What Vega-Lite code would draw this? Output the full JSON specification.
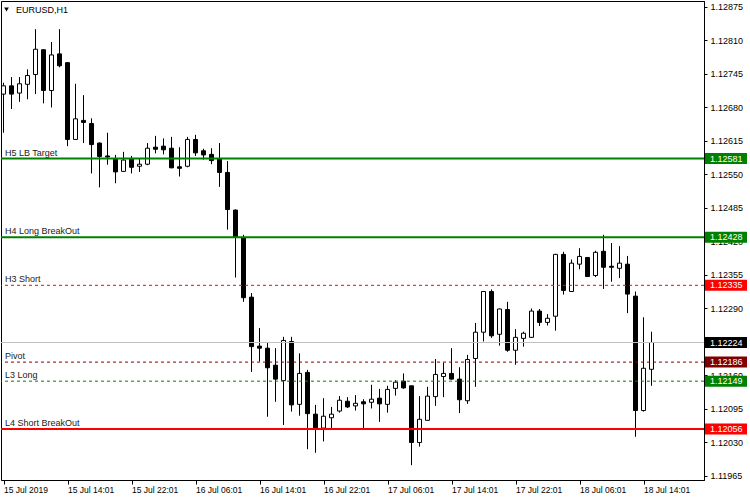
{
  "$schema": "https://vega.github.io/schema/vega-lite/v6.json",
  "autosize": "none",
  "width": 703,
  "height": 479,
  "padding": {"left": 1, "top": 1, "right": 46, "bottom": 20},
  "background": "white",
  "config": {
    "view": {"stroke": "#000000", "strokeWidth": 1},
    "font": "Liberation Sans",
    "scale": {"continuousPadding": 0},
    "axis": {"labelFont": "Liberation Sans", "grid": false, "title": null, "domainColor": "#000000", "tickColor": "#000000", "labelColor": "#000000", "labelOverlap": false}
  },
  "datasets": {
    "candles": [
      {"k":0,"o":1.12706,"h":1.12728,"l":1.12631,"c":1.12722},
      {"k":1,"o":1.12722,"h":1.12739,"l":1.12677,"c":1.12706},
      {"k":2,"o":1.12708,"h":1.12739,"l":1.12691,"c":1.12726},
      {"k":3,"o":1.12725,"h":1.12754,"l":1.12696,"c":1.12742},
      {"k":4,"o":1.12744,"h":1.12832,"l":1.12706,"c":1.12793},
      {"k":5,"o":1.12792,"h":1.12793,"l":1.12688,"c":1.12713},
      {"k":6,"o":1.12713,"h":1.12807,"l":1.12680,"c":1.12782},
      {"k":7,"o":1.12784,"h":1.12832,"l":1.12758,"c":1.12761},
      {"k":8,"o":1.12767,"h":1.12768,"l":1.12605,"c":1.12618},
      {"k":9,"o":1.12618,"h":1.12726,"l":1.12617,"c":1.12658},
      {"k":10,"o":1.12655,"h":1.12704,"l":1.12611,"c":1.12651},
      {"k":11,"o":1.12649,"h":1.12659,"l":1.12552,"c":1.12608},
      {"k":12,"o":1.12611,"h":1.12612,"l":1.12525,"c":1.12585},
      {"k":13,"o":1.12586,"h":1.12631,"l":1.12569,"c":1.12584},
      {"k":14,"o":1.12580,"h":1.12588,"l":1.12533,"c":1.12555},
      {"k":15,"o":1.12556,"h":1.12594,"l":1.12555,"c":1.12578},
      {"k":16,"o":1.12580,"h":1.12586,"l":1.12552,"c":1.12564},
      {"k":17,"o":1.12566,"h":1.12580,"l":1.12555,"c":1.12570},
      {"k":18,"o":1.12570,"h":1.12611,"l":1.12568,"c":1.12601},
      {"k":19,"o":1.12603,"h":1.12625,"l":1.12591,"c":1.12599},
      {"k":20,"o":1.12605,"h":1.12620,"l":1.12589,"c":1.12598},
      {"k":21,"o":1.12601,"h":1.12623,"l":1.12562,"c":1.12563},
      {"k":22,"o":1.12565,"h":1.12603,"l":1.12546,"c":1.12562},
      {"k":23,"o":1.12566,"h":1.12623,"l":1.12564,"c":1.12618},
      {"k":24,"o":1.12618,"h":1.12627,"l":1.12586,"c":1.12592},
      {"k":25,"o":1.12596,"h":1.12600,"l":1.12579,"c":1.12588},
      {"k":26,"o":1.12589,"h":1.12601,"l":1.12570,"c":1.12577},
      {"k":27,"o":1.12581,"h":1.12611,"l":1.12526,"c":1.12554},
      {"k":28,"o":1.12554,"h":1.12576,"l":1.12443,"c":1.12482},
      {"k":29,"o":1.12481,"h":1.12482,"l":1.12350,"c":1.12429},
      {"k":30,"o":1.12427,"h":1.12433,"l":1.12303,"c":1.12311},
      {"k":31,"o":1.12312,"h":1.12320,"l":1.12167,"c":1.12216},
      {"k":32,"o":1.12217,"h":1.12252,"l":1.12187,"c":1.12213},
      {"k":33,"o":1.12213,"h":1.12224,"l":1.12080,"c":1.12175},
      {"k":34,"o":1.12180,"h":1.12213,"l":1.12109,"c":1.12153},
      {"k":35,"o":1.12150,"h":1.12235,"l":1.12064,"c":1.12228},
      {"k":36,"o":1.12226,"h":1.12235,"l":1.12090,"c":1.12103},
      {"k":37,"o":1.12104,"h":1.12203,"l":1.12082,"c":1.12164},
      {"k":38,"o":1.12166,"h":1.12171,"l":1.12017,"c":1.12086},
      {"k":39,"o":1.12085,"h":1.12103,"l":1.12010,"c":1.12058},
      {"k":40,"o":1.12058,"h":1.12116,"l":1.12032,"c":1.12081},
      {"k":41,"o":1.12078,"h":1.12099,"l":1.12058,"c":1.12085},
      {"k":42,"o":1.12091,"h":1.12120,"l":1.12088,"c":1.12112},
      {"k":43,"o":1.12110,"h":1.12118,"l":1.12097,"c":1.12099},
      {"k":44,"o":1.12101,"h":1.12122,"l":1.12092,"c":1.12106},
      {"k":45,"o":1.12109,"h":1.12114,"l":1.12058,"c":1.12105},
      {"k":46,"o":1.12108,"h":1.12142,"l":1.12096,"c":1.12114},
      {"k":47,"o":1.12116,"h":1.12134,"l":1.12070,"c":1.12105},
      {"k":48,"o":1.12104,"h":1.12140,"l":1.12088,"c":1.12133},
      {"k":49,"o":1.12135,"h":1.12151,"l":1.12121,"c":1.12147},
      {"k":50,"o":1.12149,"h":1.12164,"l":1.12134,"c":1.12136},
      {"k":51,"o":1.12140,"h":1.12140,"l":1.11986,"c":1.12030},
      {"k":52,"o":1.12030,"h":1.12120,"l":1.12022,"c":1.12075},
      {"k":53,"o":1.12073,"h":1.12138,"l":1.12073,"c":1.12120},
      {"k":54,"o":1.12119,"h":1.12192,"l":1.12101,"c":1.12162},
      {"k":55,"o":1.12158,"h":1.12185,"l":1.12118,"c":1.12164},
      {"k":56,"o":1.12164,"h":1.12213,"l":1.12152,"c":1.12153},
      {"k":57,"o":1.12153,"h":1.12176,"l":1.12087,"c":1.12113},
      {"k":58,"o":1.12111,"h":1.12200,"l":1.12105,"c":1.12191},
      {"k":59,"o":1.12193,"h":1.12262,"l":1.12138,"c":1.12244},
      {"k":60,"o":1.12244,"h":1.12324,"l":1.12226,"c":1.12323},
      {"k":61,"o":1.12323,"h":1.12327,"l":1.12233,"c":1.12237},
      {"k":62,"o":1.12240,"h":1.12290,"l":1.12218,"c":1.12289},
      {"k":63,"o":1.12288,"h":1.12303,"l":1.12206,"c":1.12209},
      {"k":64,"o":1.12209,"h":1.12250,"l":1.12181,"c":1.12234},
      {"k":65,"o":1.12232,"h":1.12245,"l":1.12216,"c":1.12242},
      {"k":66,"o":1.12234,"h":1.12290,"l":1.12233,"c":1.12285},
      {"k":67,"o":1.12285,"h":1.12289,"l":1.12256,"c":1.12263},
      {"k":68,"o":1.12263,"h":1.12279,"l":1.12257,"c":1.12271},
      {"k":69,"o":1.12275,"h":1.12396,"l":1.12247,"c":1.12395},
      {"k":70,"o":1.12395,"h":1.12400,"l":1.12317,"c":1.12325},
      {"k":71,"o":1.12323,"h":1.12385,"l":1.12322,"c":1.12378},
      {"k":72,"o":1.12376,"h":1.12407,"l":1.12366,"c":1.12391},
      {"k":73,"o":1.12389,"h":1.12390,"l":1.12351,"c":1.12352},
      {"k":74,"o":1.12354,"h":1.12402,"l":1.12351,"c":1.12399},
      {"k":75,"o":1.12401,"h":1.12433,"l":1.12328,"c":1.12370},
      {"k":76,"o":1.12372,"h":1.12417,"l":1.12342,"c":1.12370},
      {"k":77,"o":1.12368,"h":1.12411,"l":1.12349,"c":1.12378},
      {"k":78,"o":1.12376,"h":1.12392,"l":1.12281,"c":1.12318},
      {"k":79,"o":1.12314,"h":1.12323,"l":1.12041,"c":1.12092},
      {"k":80,"o":1.12092,"h":1.12273,"l":1.12090,"c":1.12174},
      {"k":81,"o":1.12172,"h":1.12245,"l":1.12140,"c":1.12224}
    ],
    "levels": [
      {"name":"H5 LB Target","price":1.12581},
      {"name":"H4 Long BreakOut","price":1.12428},
      {"name":"H3 Short","price":1.12335},
      {"name":"Bid","price":1.12224},
      {"name":"Pivot","price":1.12186},
      {"name":"L3 Long","price":1.12149},
      {"name":"L4 Short BreakOut","price":1.12056}
    ],
    "header": [{"title":"EURUSD,H1"}]
  },
  "layer": [
    {
      "data": {"name": "candles"},
      "mark": {"type": "rule", "color": "#000000", "strokeWidth": 1},
      "encoding": {
        "x": {"field": "k", "type": "quantitative",
          "scale": {"domain": [-0.3125, 87.5625], "nice": false, "zero": false, "padding": 0},
          "axis": {"orient": "bottom", "values": [0,8,16,24,32,40,48,56,64,72,80], "tickCount": 20,
            "labelExpr": "['15 Jul 2019','15 Jul 14:01','15 Jul 22:01','16 Jul 06:01','16 Jul 14:01','16 Jul 22:01','17 Jul 06:01','17 Jul 14:01','17 Jul 22:01','18 Jul 06:01','18 Jul 14:01'][round(datum.value/8)]",
            "labelAlign": "left", "labelFontSize": 8.5, "tickSize": 4, "labelPadding": 1, "labelFlush": false, "labelOverlap": false, "labelBaseline": "top"}},
        "y": {"field": "l", "type": "quantitative",
          "scale": {"domain": [1.1195723, 1.1288664], "nice": false, "zero": false, "padding": 0},
          "axis": {"orient": "right", "values": [1.11965,1.1203,1.12095,1.1216,1.1229,1.12355,1.1242,1.12485,1.1255,1.12615,1.1268,1.12745,1.1281,1.12875],
            "tickCount": 30, "format": ".5f", "labelFontSize": 9, "tickSize": 3, "labelPadding": 3, "labelOverlap": false, "labelFlush": false}},
        "y2": {"field": "h"}
      }
    },
    {
      "data": {"name": "candles"},
      "mark": {"type": "bar", "size": 4, "stroke": "#000000", "strokeWidth": 1},
      "encoding": {
        "x": {"field": "k", "type": "quantitative"},
        "y": {"field": "o", "type": "quantitative"},
        "y2": {"field": "c"},
        "fill": {"condition": {"test": "datum.c > datum.o", "value": "#ffffff"}, "value": "#000000"}
      }
    },
    {
      "data": {"name": "levels"},
      "transform": [{"filter": {"field": "name", "oneOf": ["H5 LB Target", "H4 Long BreakOut", "L4 Short BreakOut", "Bid"]}}],
      "mark": {"type": "rule"},
      "encoding": {
        "y": {"field": "price", "type": "quantitative"},
        "stroke": {"field": "name", "type": "nominal", "legend": null,
          "scale": {"domain": ["H5 LB Target","H4 Long BreakOut","H3 Short","Bid","Pivot","L3 Long","L4 Short BreakOut"],
                    "range": ["#008000","#008000","#ff0000","#c0c0c0","#800000","#008000","#ff0000"]}},
        "strokeWidth": {"condition": {"test": "datum.name === 'Bid'", "value": 1}, "value": 2}
      }
    },
    {
      "data": {"name": "levels"},
      "transform": [{"filter": {"field": "name", "oneOf": ["H3 Short", "Pivot", "L3 Long"]}}],
      "mark": {"type": "rule", "strokeDash": [3, 3], "strokeWidth": 1},
      "encoding": {
        "y": {"field": "price", "type": "quantitative"},
        "stroke": {"field": "name", "type": "nominal", "legend": null}
      }
    },
    {
      "data": {"name": "levels"},
      "transform": [{"filter": "datum.name !== 'Bid'"}],
      "mark": {"type": "text", "align": "left", "baseline": "bottom", "dy": -1, "fontSize": 9, "color": "#1a1a1a"},
      "encoding": {
        "x": {"datum": 0.1875, "type": "quantitative"},
        "y": {"field": "price", "type": "quantitative"},
        "text": {"field": "name"}
      }
    },
    {
      "data": {"name": "levels"},
      "mark": {"type": "bar", "size": 11, "orient": "horizontal"},
      "encoding": {
        "x": {"datum": 87.6875, "type": "quantitative"},
        "x2": {"datum": 92.9375},
        "y": {"field": "price", "type": "quantitative"},
        "fill": {"field": "name", "type": "nominal", "legend": null,
          "scale": {"domain": ["H5 LB Target","H4 Long BreakOut","H3 Short","Bid","Pivot","L3 Long","L4 Short BreakOut"],
                    "range": ["#008000","#008000","#ff0000","#000000","#800000","#008000","#ff0000"]}}
      }
    },
    {
      "data": {"name": "levels"},
      "mark": {"type": "text", "align": "left", "baseline": "middle", "fontSize": 9, "color": "#ffffff"},
      "encoding": {
        "x": {"datum": 88.3125, "type": "quantitative"},
        "y": {"field": "price", "type": "quantitative"},
        "text": {"field": "price", "type": "quantitative", "format": ".5f"}
      }
    },
    {
      "data": {"name": "header"},
      "mark": {"type": "point", "shape": "triangle-down", "filled": true, "size": 22, "color": "#000000", "opacity": 1},
      "encoding": {
        "x": {"datum": 0.375, "type": "quantitative"},
        "y": {"datum": 1.1287015, "type": "quantitative"}
      }
    },
    {
      "data": {"name": "header"},
      "mark": {"type": "text", "align": "left", "baseline": "middle", "fontSize": 9, "color": "#000000"},
      "encoding": {
        "x": {"datum": 1.5625, "type": "quantitative"},
        "y": {"datum": 1.128691, "type": "quantitative"},
        "text": {"field": "title"}
      }
    }
  ]
}
